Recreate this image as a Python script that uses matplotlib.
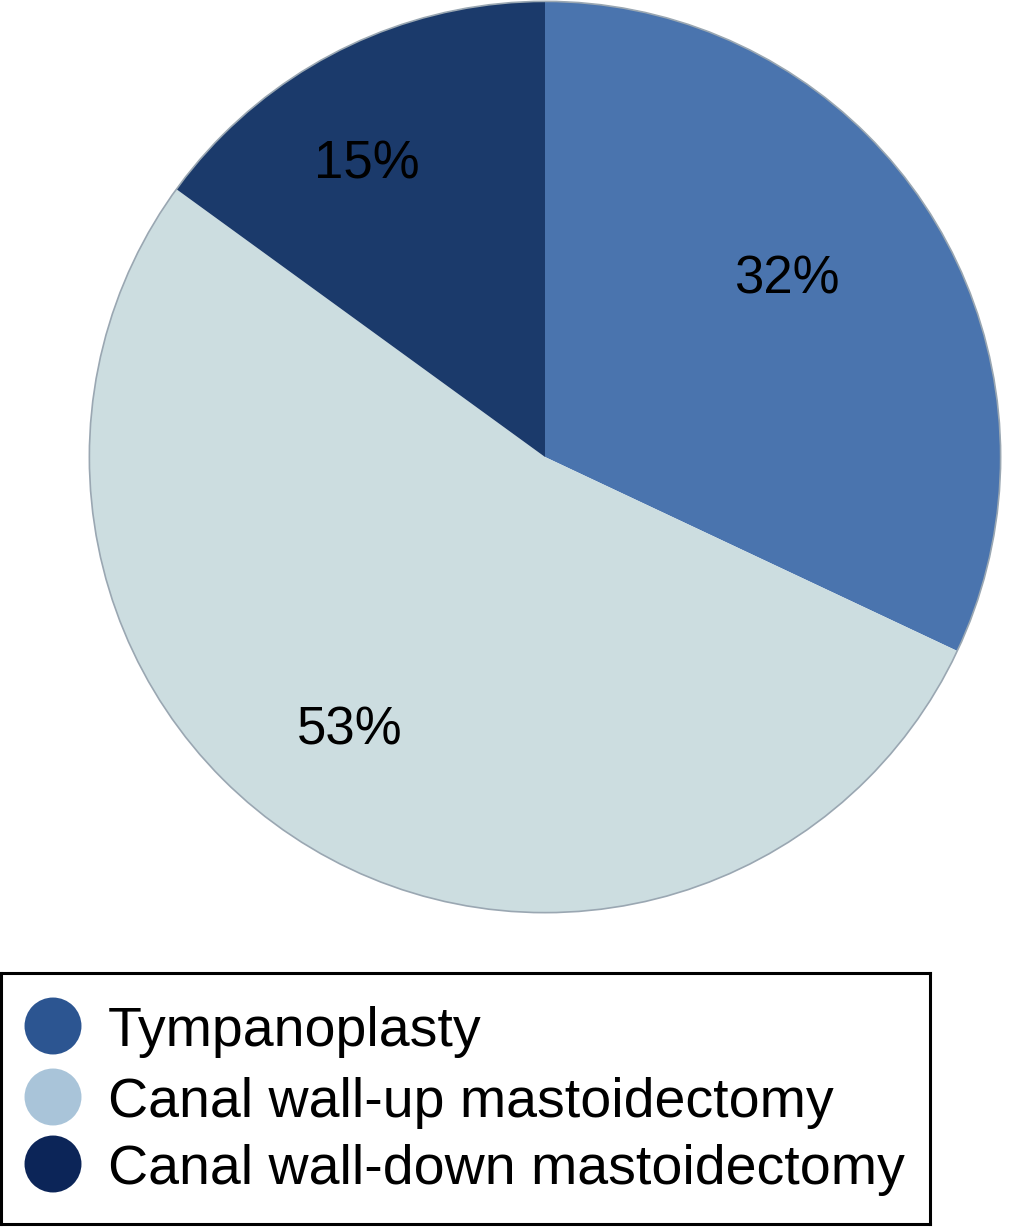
import numpy as np
import matplotlib
matplotlib.use("Agg")
import matplotlib.pyplot as plt
from matplotlib.patches import Circle

plt.rcParams["font.family"] = ["Liberation Sans", "DejaVu Sans"]

labels = ["Tympanoplasty", "Canal wall-up mastoidectomy", "Canal wall-down mastoidectomy"]
shares = [32, 53, 15]
slice_colors = ["#4A74AE", "#CCDDE0", "#1B3A6B"]
legend_colors = ["#2C5591", "#A9C4D9", "#0C2558"]

W, H = 1022, 1227
fig = plt.figure(figsize=(W / 100, H / 100), dpi=100)

# pie: center about (545, 457) px, radius about 457 px
cx, cy, r = 545, 457, 457
ax = fig.add_axes([(cx - r) / W, (H - cy - r) / H, 2 * r / W, 2 * r / H])
wedges, texts, autotexts = ax.pie(
    shares, colors=slice_colors, startangle=90, counterclock=False,
    autopct=lambda p: f"{p:.0f}%", pctdistance=0.71,
    textprops={"fontsize": 38, "color": "black"},
    wedgeprops={"linewidth": 0})
# labels sit a little left of the mid-angle in the original
for t in autotexts:
    x, y = t.get_position()
    t.set_position((x - 0.068, y + 0.01))
ax.add_patch(Circle((0, 0), 1, fill=False, edgecolor="#9aa7b2", linewidth=1.2))
ax.set_xlim(-1.003, 1.003)
ax.set_ylim(-1.003, 1.003)

# legend box
lx0, ly0, lx1, ly1 = 1, 973, 930, 1224
lax = fig.add_axes([lx0 / W, (H - ly1) / H, (lx1 - lx0) / W, (ly1 - ly0) / H])
lax.set_xlim(lx0, lx1)
lax.set_ylim(ly1, ly0)
lax.set_xticks([])
lax.set_yticks([])
for s in lax.spines.values():
    s.set_linewidth(2.2)
    s.set_color("black")

rows = [1026, 1097, 1164]
lax.scatter([53] * 3, rows, s=41 ** 2, c=legend_colors, edgecolors="none")
for y, lab in zip(rows, labels):
    lax.text(108, y + 20, lab, fontsize=40, va="baseline", ha="left")

fig.savefig("out.png", dpi=100)
